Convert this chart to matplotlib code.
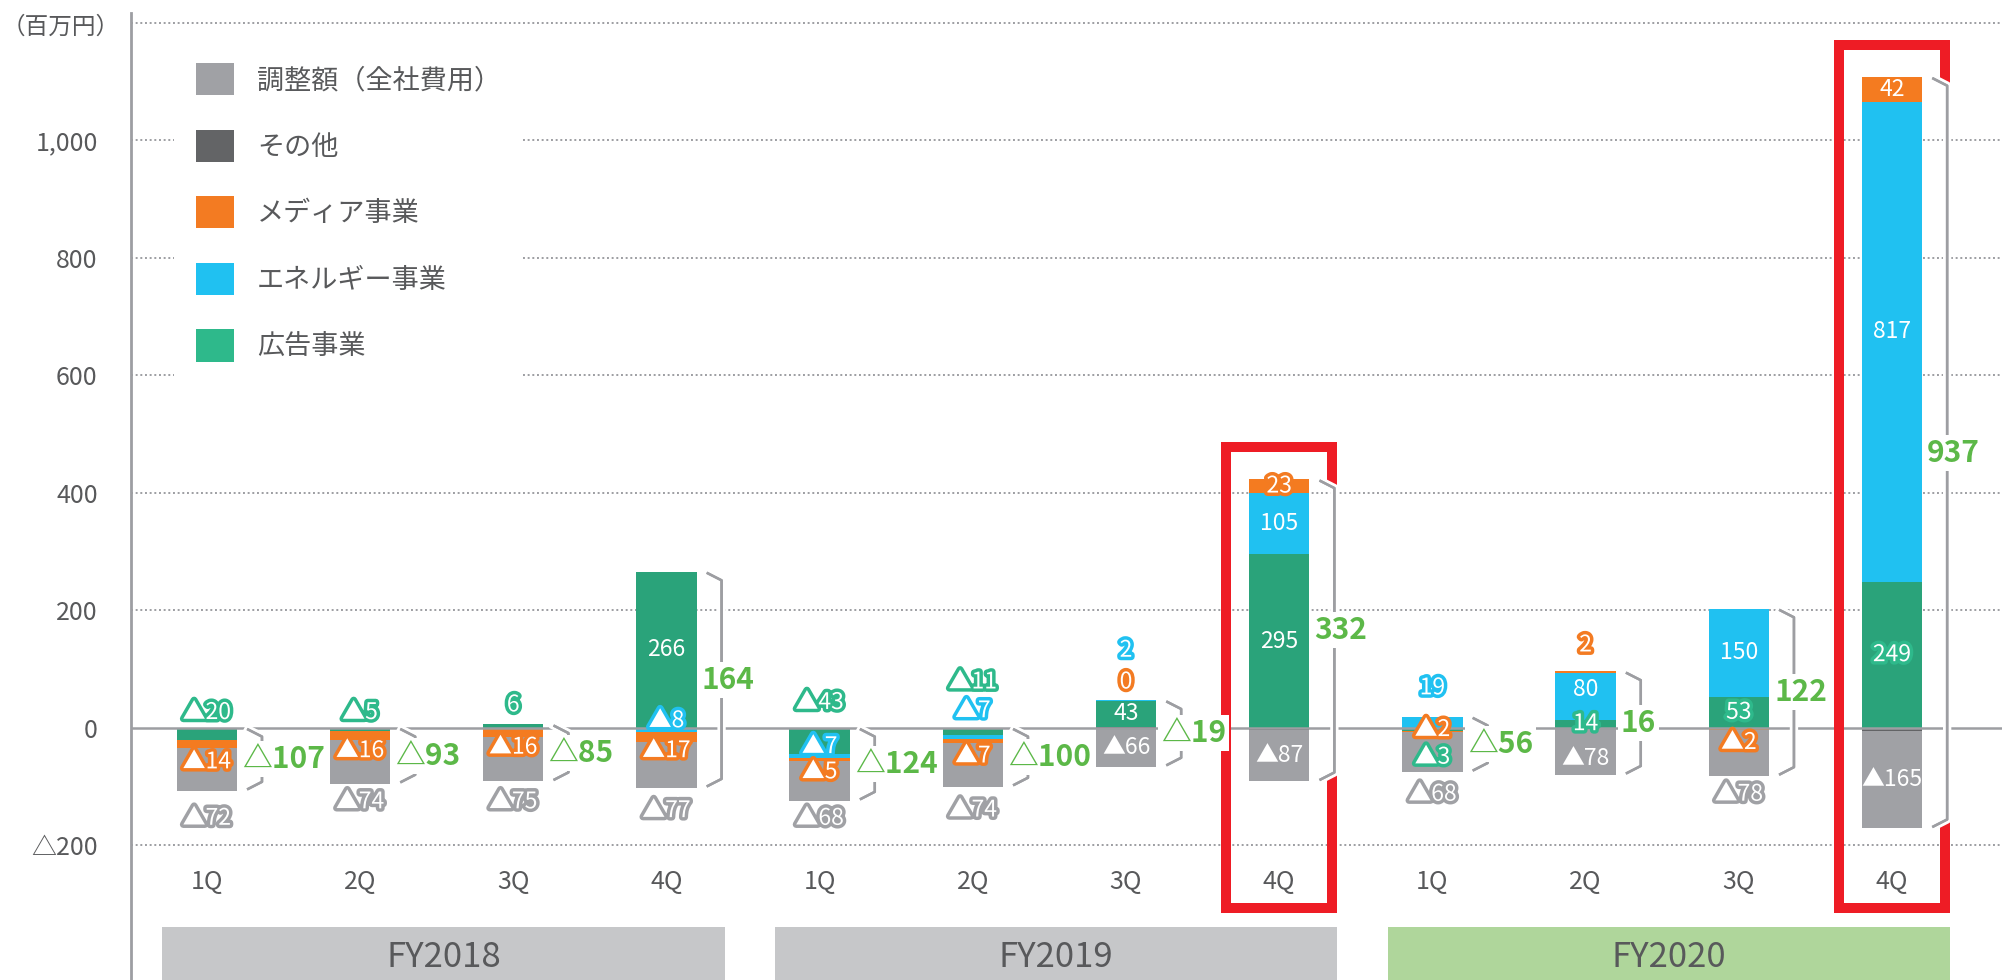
import matplotlib
matplotlib.use('Agg')
import matplotlib.pyplot as plt
import matplotlib.patheffects as pe
from matplotlib.patches import Patch, Rectangle
import numpy as np

plt.rcParams['font.family'] = ['Noto Sans CJK JP', 'DejaVu Sans']

# ---- data (百万円), △ = negative ----
quarters = ['1Q', '2Q', '3Q', '4Q'] * 3
years = ['FY2018', 'FY2019', 'FY2020']

ad     = [-20, -5, 6, 266, -43, -11, 43, 295, -3, 14, 53, 249]
energy = [0, 0, 0, -8, -7, -7, 2, 105, 19, 80, 150, 817]
media  = [-14, -16, -16, -17, -5, -7, 0, 23, -2, 2, -2, 42]
other  = [-1, 0, 0, 0, -1, -1, 2, -4, -2, -2, -2, -6]
adj    = [-72, -74, -75, -77, -68, -74, -66, -87, -68, -78, -78, -165]
totals = [-107, -93, -85, 164, -124, -100, -19, 332, -56, 16, 122, 937]
highlight = [7, 11]

# ---- label layout: y in data units, 'c' = segment centre, None = no label ----
ad_pos = [26, 26, 39, 'c', 43, 78, 'c', 'c', -50, 'c', 'c', 'c']
ad_halo = [1, 1, 1, 0, 1, 1, 0, 0, 1, 1, 1, 1]
energy_pos = [None, None, None, 12, -32, 29, 132, 'c', 68, 65, 'c', 674]
energy_halo = [0, 0, 0, 1, 1, 1, 1, 0, 1, 0, 0, 0]
media_pos = [-58, -39, -33, -39, -75, -48, 78, 'c', -3, 141, -25, 'c']
media_halo = [1, 1, 1, 1, 1, 1, 1, 1, 1, 1, 1, 0]
adj_pos = [-154, -126, -126, -141, -154, -140, 'c', 'c', -113, -52, -113, 'c']
adj_halo = [1, 1, 1, 1, 1, 1, 0, 0, 1, 0, 1, 0]

TXT = '#58595B'
GRAY_LINE = '#9D9EA2'
TOTAL_GREEN = '#5CB848'
RED = '#EE1C25'

# name, values, bar colour, halo colour, label positions, halo flags
series = [
    ('その他', other, '#636466', '#636466', [None] * 12, [0] * 12),
    ('広告事業', ad, '#2AA37A', '#2EB98B', ad_pos, ad_halo),
    ('エネルギー事業', energy, '#20C1F1', '#20C1F1', energy_pos, energy_halo),
    ('メディア事業', media, '#F47B20', '#F37B22', media_pos, media_halo),
    ('調整額（全社費用）', adj, '#A0A1A5', '#A0A1A5', adj_pos, adj_halo),
]

W, H = 2002, 980
fig = plt.figure(figsize=(W / 100, H / 100), dpi=100)
ax = fig.add_axes([131 / W, 0, 1 - 131 / W, 1 - 12.7 / H])
ax.set_xlim(-0.495, 11.718)
ax.set_ylim(-429.3, 1217.2)

x = np.arange(len(quarters))
width = 0.395


def fmt(v):
    return f'▲{abs(v):,}' if v < 0 else f'{v:,}'


# grid
for g in [-200, 200, 400, 600, 800, 1000, 1200]:
    ax.axhline(g, color=GRAY_LINE, lw=1.4, ls=(0, (1, 1.4)), zorder=0.5)
ax.axhline(0, color=GRAY_LINE, lw=1.8, zorder=2.5)

# stacked bars
pos_base = np.zeros(len(x))
neg_base = np.zeros(len(x))
for name, vals, color, halo_c, lpos, lhalo in series:
    v = np.array(vals, dtype=float)
    bottom = np.where(v >= 0, pos_base, neg_base)
    ax.bar(x, v, width, bottom=bottom, color=color, linewidth=0, zorder=2)
    for i in range(len(x)):
        if lpos[i] is None:
            continue
        y = bottom[i] + v[i] / 2 if lpos[i] == 'c' else lpos[i]
        effects = [pe.withStroke(linewidth=5, foreground=halo_c)] if lhalo[i] else None
        ax.text(x[i], y, fmt(vals[i]), ha='center', va='center', fontsize=16.5,
                color='white', zorder=5, path_effects=effects)
    pos_base += np.clip(v, 0, None)
    neg_base += np.clip(v, None, 0)

# red highlight boxes (right side replaced by the bracket)
for i in highlight:
    top, bot = pos_base[i], neg_base[i]
    bx = [x[i] + 0.345, x[i] + 0.345, x[i] - 0.345, x[i] - 0.345, x[i] + 0.345, x[i] + 0.345]
    by = [top - 10, top + 55, top + 55, -307, -307, bot + 10]
    ax.plot(bx, by, color=RED, lw=7.2, solid_joinstyle='miter', solid_capstyle='butt', zorder=3)

# brackets + totals
for i in range(len(x)):
    top = max(pos_base[i], 0) - 3
    bot = neg_base[i] + 3
    bx = [x[i] + 0.27, x[i] + 0.36, x[i] + 0.36, x[i] + 0.27]
    by = [top, top - 12, bot + 12, bot]
    ax.plot(bx, by, color=GRAY_LINE, lw=1.8, zorder=3.5,
            path_effects=[pe.withStroke(linewidth=6, foreground='white'), pe.Normal()])
    t = totals[i]
    label = f'△{abs(t):,}' if t < 0 else f'{t:,}'
    ax.text(x[i] + 0.23, (top + bot) / 2, label, ha='left', va='center', fontsize=21.5,
            fontweight='bold', color=TOTAL_GREEN, zorder=6,
            bbox=dict(boxstyle='square,pad=0.1', fc='white', ec='none'))

# quarter labels
for i, q in enumerate(quarters):
    ax.text(x[i], -263, q, ha='center', va='center', fontsize=18, color=TXT)

# fiscal year bands
for j, yr in enumerate(years):
    x0, x1 = 4 * j - 0.29, 4 * j + 3 + 0.38
    ax.add_patch(Rectangle((x0, -480), x1 - x0, 141, facecolor='#AFD69B' if j == 2 else '#C6C7C9',
                           edgecolor='none', zorder=1))
    ax.text((x0 + x1) / 2, -391.5, yr, ha='center', va='center', fontsize=25, color=TXT, zorder=2)

# axes styling
ax.set_xticks([])
ticks = list(range(-200, 1001, 200))
ax.set_yticks(ticks)
ax.set_yticklabels([f'△{abs(t):,}' if t < 0 else f'{t:,}' for t in ticks])
ax.tick_params(axis='y', length=0, pad=24, labelsize=18, labelcolor=TXT)
for s in ['top', 'right', 'bottom']:
    ax.spines[s].set_visible(False)
ax.spines['left'].set_color(GRAY_LINE)
ax.spines['left'].set_linewidth(2)

fig.text(2 / W, 1 - 27 / H, '（百万円）', fontsize=17, color=TXT, ha='left', va='center')

# legend
legend_items = [('調整額（全社費用）', '#A0A1A5'), ('その他', '#636466'), ('メディア事業', '#F37B22'),
                ('エネルギー事業', '#20C1F1'), ('広告事業', '#2EB98B')]
handles = [Patch(facecolor=c, edgecolor='none') for _, c in legend_items]
leg = ax.legend(handles, [n for n, _ in legend_items], loc='upper left',
                bbox_to_anchor=(174.3 / W, 1 - 41.5 / H), bbox_transform=fig.transFigure,
                fontsize=19.5, handlelength=1.4, handleheight=1.45, handletextpad=0.85,
                labelspacing=1.27, borderpad=0.8, borderaxespad=0, fancybox=False,
                facecolor='white', edgecolor='none', framealpha=1, labelcolor=TXT)
leg.set_zorder(4)

fig.savefig('out.png', dpi=100)
